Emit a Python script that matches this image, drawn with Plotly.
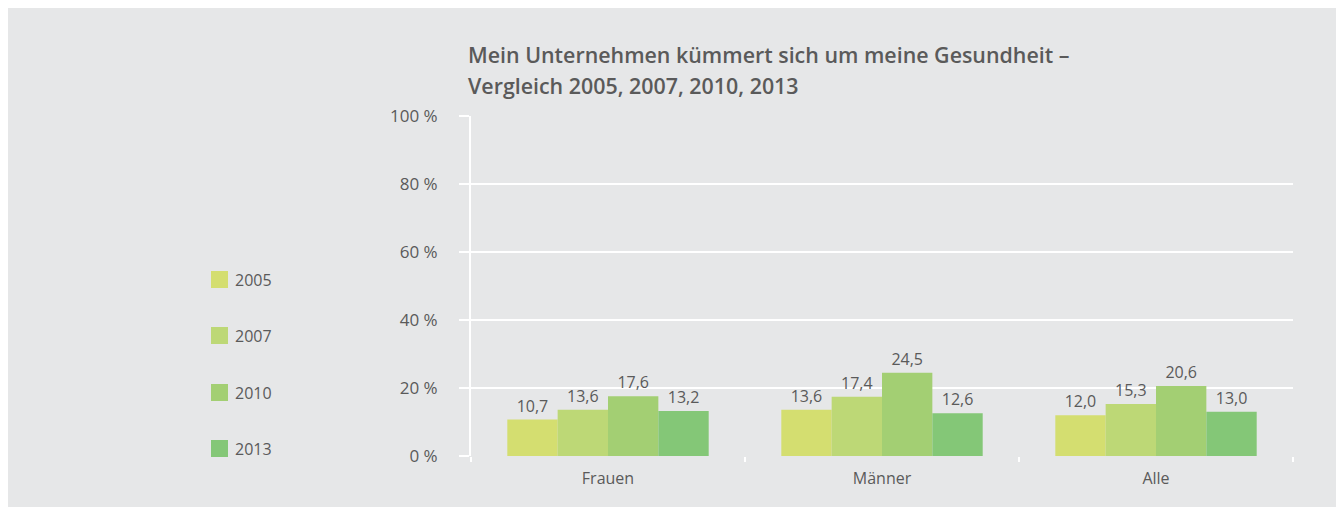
import plotly.graph_objects as go

categories = ["Frauen", "Männer", "Alle"]
years = ["2005", "2007", "2010", "2013"]
v2005 = [10.7, 13.6, 12.0]
v2007 = [13.6, 17.4, 15.3]
v2010 = [17.6, 24.5, 20.6]
v2013 = [13.2, 12.6, 13.0]
series = [v2005, v2007, v2010, v2013]
colors = ["#d4de70", "#bdd876", "#a3cf73", "#84c777"]
title_lines = ["Mein Unternehmen kümmert sich um meine Gesundheit –",
               "Vergleich 2005, 2007, 2010, 2013"]

OFF = 8  # page body margin
W, H = 1328, 499
L, R, T, B = 463, 43, 108, 51
PW, PH = W - L - R, H - T - B

def px(x):  # page pixel -> paper
    return (x - OFF - L) / PW

def py(y):
    return (H - B - (y - OFF)) / PH

FONT = "Open Sans"
TXT = "#5a5a5a"
BG = "#e6e7e8"

fig = go.Figure()
for name, vals, col in zip(years, series, colors):
    fig.add_trace(go.Bar(
        x=categories, y=vals, name=name, marker=dict(color=col, line=dict(width=0)),
        texttemplate="%{y:.1f}", textposition="outside", cliponaxis=False,
        textfont=dict(family=FONT, size=16, color=TXT), showlegend=False,
    ))

shapes = []
annotations = []
for txt, cy in zip(title_lines, [55, 85]):
    annotations.append(dict(text=txt, xref="paper", yref="paper", x=px(466), y=py(cy),
                            xanchor="left", yanchor="middle", align="left", showarrow=False,
                            font=dict(family=FONT, size=21.4, color=TXT, weight=600)))
legend_y = [279.5, 335.5, 392.5, 448.5]
for name, col, ly in zip(years, colors, legend_y):
    shapes.append(dict(type="rect", xref="paper", yref="paper", x0=px(211), x1=px(228),
                       y0=py(ly + 8.5), y1=py(ly - 8.5), fillcolor=col, line=dict(width=0)))
    annotations.append(dict(text=name, xref="paper", yref="paper", x=px(233), y=py(ly),
                            xanchor="left", yanchor="middle", showarrow=False,
                            font=dict(family=FONT, size=16, color=TXT)))

fig.update_layout(
    width=W, height=H, margin=dict(l=L, r=R, t=T, b=B),
    paper_bgcolor=BG, plot_bgcolor=BG,
    barmode="group", bargap=0.265, bargroupgap=0,
    separators=", ",
    shapes=shapes, annotations=annotations,
    xaxis=dict(showgrid=False, showline=False, ticks="outside", tickson="boundaries",
               ticklen=5, tickwidth=2, tickcolor="white", ticklabelstandoff=11,
               tickfont=dict(family=FONT, size=16, color=TXT), zeroline=False),
    yaxis=dict(range=[0, 100], dtick=20, ticksuffix=" %", showgrid=True, gridcolor="white",
               gridwidth=2, showline=True, linecolor="white", linewidth=2,
               ticks="outside", ticklen=10, tickwidth=2, tickcolor="white",
               ticklabelstandoff=18, zeroline=False,
               tickfont=dict(family=FONT, size=17, color=TXT)),
)

fig.write_html("out.html")
